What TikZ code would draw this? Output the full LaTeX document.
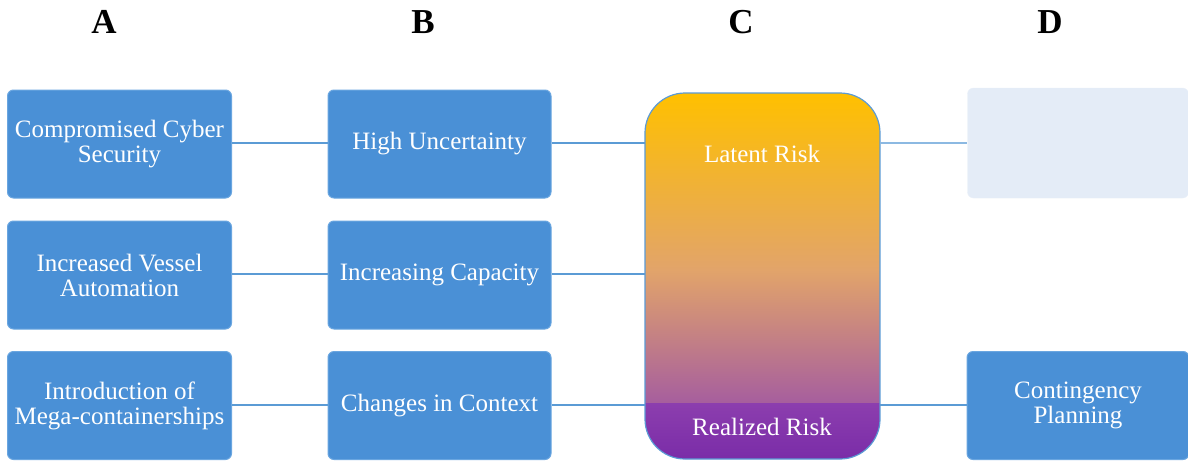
\documentclass[tikz,border=0pt]{standalone}
\usepackage{fontspec}
\setmainfont{Liberation Serif}
\definecolor{boxblue}{HTML}{4A90D6}
\definecolor{boxedge}{HTML}{6AA6E0}
\definecolor{linkblue}{HTML}{5B9BD5}
\definecolor{riskgold}{HTML}{FFC000}
\definecolor{riskmid}{HTML}{E2A46A}
\definecolor{riskpink}{HTML}{A65E9E}
\definecolor{riskpurple}{HTML}{8C3EAE}
\definecolor{riskdeep}{HTML}{7A2CA8}
\definecolor{fadedbox}{HTML}{E4ECF7}
\begin{document}
\begin{tikzpicture}[x=1pt,y=-1pt,
  stagebox/.style={draw=boxedge, line width=1pt, fill=boxblue, rounded corners=6pt,
    minimum width=224pt, minimum height=108pt, text=white, align=center,
    font=\fontsize{25}{25}\selectfont, inner sep=2pt},
  fadebox/.style={draw=fadedbox!80!white, fill=fadedbox, rounded corners=6pt,
    minimum width=221pt, minimum height=110pt},
  link/.style={draw=linkblue, line width=1.5pt},
  colhead/.style={font=\fontsize{35}{35}\selectfont\bfseries},
  risktext/.style={text=white, font=\fontsize{25}{25}\selectfont}]
\useasboundingbox (0,0) rectangle (1188,461);
\fill[white] (0,0) rectangle (1188,461);

% column headers
\node[colhead] (hA) at (104,22) {A};
\node[colhead] (hB) at (423,22) {B};
\node[colhead] (hC) at (741,22) {C};
\node[colhead] (hD) at (1050,22) {D};

% column C risk shape
\begin{scope}
  \clip[rounded corners=40pt] (645,93) rectangle (880,459);
  \shade[top color=riskgold, bottom color=riskmid] (645,93) rectangle (880,270);
  \shade[top color=riskmid, bottom color=riskpink] (645,269.5) rectangle (880,403.5);
  \shade[top color=riskpurple, bottom color=riskdeep] (645,403) rectangle (880,459);
\end{scope}
\draw[linkblue, line width=1.2pt, rounded corners=40pt] (645,93) rectangle (880,459);
\node[risktext] (latent) at (762,154) {Latent Risk};
\node[risktext] (realized) at (762,427) {Realized Risk};
\coordinate (cR1) at (645,143);
\coordinate (cR2) at (645,274);
\coordinate (cR3) at (645,405);
\coordinate (cL1) at (880,143);
\coordinate (cL3) at (880,405);

% column A
\node[stagebox] (a1) at (119.5,144) {Compromised Cyber\\Security};
\node[stagebox] (a2) at (119.5,275) {Increased Vessel\\Automation};
\node[stagebox] (a3) at (119.5,405.5) {Introduction of\\Mega-containerships};

% column B
\node[stagebox, minimum width=223pt] (b1) at (439.5,144) {High Uncertainty};
\node[stagebox, minimum width=223pt] (b2) at (439.5,275) {Increasing Capacity};
\node[stagebox, minimum width=223pt] (b3) at (439.5,405.5) {Changes in Context};

% column D
\node[fadebox] (d1) at (1078,143) {};
\node[stagebox, minimum width=222pt] (d3) at (1078,405.5) {Contingency\\Planning};

% connectors
\draw[link] (a1.east |- 0,143) -- (b1.west |- 0,143);
\draw[link] (a2.east |- 0,274) -- (b2.west |- 0,274);
\draw[link] (a3.east |- 0,405) -- (b3.west |- 0,405);
\draw[link] (b1.east |- 0,143) -- (cR1);
\draw[link] (b2.east |- 0,274) -- (cR2);
\draw[link] (b3.east |- 0,405) -- (cR3);
\draw[link, draw=linkblue!70!white] (cL1) -- (d1.west |- 0,143);
\draw[link] (cL3) -- (d3.west |- 0,405);
\end{tikzpicture}
\end{document}
